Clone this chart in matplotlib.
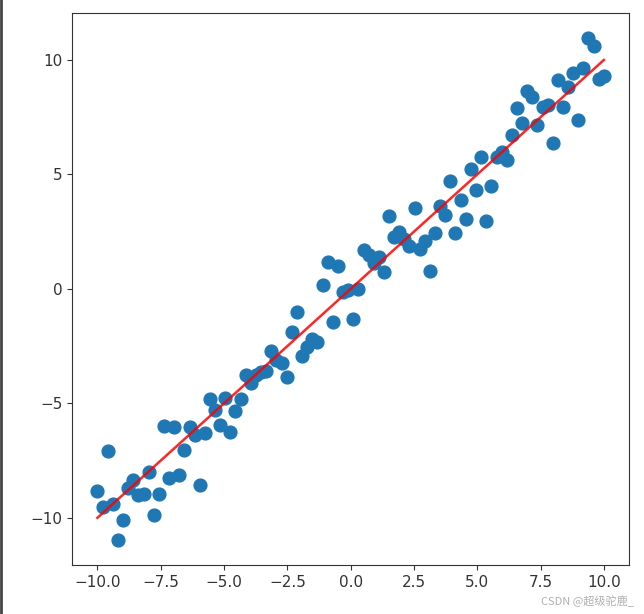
import matplotlib
matplotlib.use('Agg')
import matplotlib.pyplot as plt
from matplotlib.lines import Line2D

# x positions of the points (evenly spaced from -10 to 10)
x = [-10.00, -9.80, -9.60, -9.39, -9.19, -8.99, -8.79, -8.59, -8.38, -8.18,
     -7.98, -7.78, -7.58, -7.37, -7.17, -6.97, -6.77, -6.57, -6.36, -6.16,
     -5.96, -5.76, -5.56, -5.35, -5.15, -4.95, -4.75, -4.55, -4.34, -4.14,
     -3.94, -3.74, -3.54, -3.33, -3.13, -2.93, -2.73, -2.53, -2.32, -2.12,
     -1.92, -1.72, -1.52, -1.31, -1.11, -0.91, -0.71, -0.51, -0.30, -0.10,
     0.10, 0.30, 0.51, 0.71, 0.91, 1.11, 1.31, 1.52, 1.72, 1.92,
     2.12, 2.32, 2.53, 2.73, 2.93, 3.13, 3.33, 3.54, 3.74, 3.94,
     4.14, 4.34, 4.55, 4.75, 4.95, 5.15, 5.35, 5.56, 5.76, 5.96,
     6.16, 6.36, 6.57, 6.77, 6.97, 7.17, 7.37, 7.58, 7.78, 7.98,
     8.18, 8.38, 8.59, 8.79, 8.99, 9.19, 9.39, 9.60, 9.80, 10.00]

# noisy y values
y = [-8.83, -9.52, -7.09, -9.39, -10.96, -10.09, -8.70, -8.35, -9.00, -8.96,
     -8.00, -9.87, -8.96, -6.00, -8.26, -6.04, -8.13, -7.04, -6.04, -6.39,
     -8.57, -6.30, -4.83, -5.30, -5.96, -4.78, -6.26, -5.35, -4.83, -3.74,
     -4.13, -3.74, -3.61, -3.57, -2.70, -3.09, -3.22, -3.87, -1.87, -1.00,
     -2.91, -2.52, -2.17, -2.30, 0.17, 1.17, -1.43, 1.00, -0.13, -0.04,
     -1.30, 0.00, 1.70, 1.48, 1.13, 1.39, 0.74, 3.17, 2.26, 2.48,
     2.17, 1.87, 3.52, 1.74, 2.09, 0.78, 2.43, 3.61, 3.22, 4.70,
     2.43, 3.87, 3.04, 5.22, 4.30, 5.78, 2.96, 4.48, 5.74, 6.00,
     5.65, 6.74, 7.91, 7.26, 8.65, 8.39, 7.17, 7.96, 8.04, 6.39,
     9.13, 7.96, 8.83, 9.43, 7.39, 9.65, 10.96, 10.61, 9.17, 9.30]

# fitted line end points
line_x = [-10, 10]
line_y = [-10, 10]

fig, ax = plt.subplots(figsize=(6.44, 6.14), dpi=100)
fig.subplots_adjust(left=0.112, right=0.977, bottom=0.080, top=0.979)

ax.scatter(x, y, s=85, color='#1f77b4')
ax.plot(line_x, line_y, color='red', linewidth=1.8, alpha=0.85)

ax.tick_params(labelsize=11, colors='#333333')
for sp in ax.spines.values():
    sp.set_color('#333333')

# screenshot border on the left and watermark
fig.add_artist(Line2D([0.002, 0.002], [0, 1], color='#444444', linewidth=2,
                      transform=fig.transFigure))
fig.text(0.985, 0.012, 'CSDN @超级驼鹿_', ha='right', va='bottom', fontsize=8,
         color='#b0b0b0', family=['Noto Sans CJK SC', 'DejaVu Sans'])

fig.savefig('out.png', dpi=100)
